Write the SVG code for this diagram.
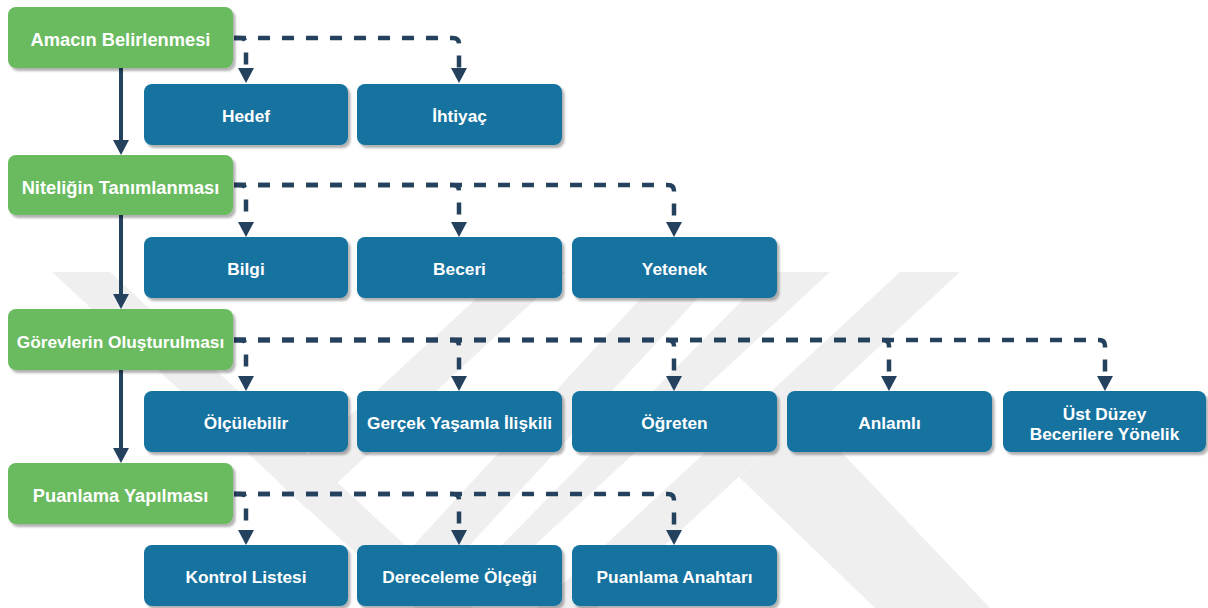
<svg xmlns="http://www.w3.org/2000/svg" width="1208" height="608" viewBox="0 0 1208 608">
<defs>
<style>
.g{fill:#6aba5e}
.b{fill:#13729f}
.t{font-family:"Liberation Sans",Arial,sans-serif;font-weight:bold;fill:#ffffff;text-anchor:middle}
.tg{font-size:18.3px}
.tb{font-size:17.3px}
.sl{fill:none;stroke:#24425e;stroke-width:4}
.dl{fill:none;stroke:#24425e;stroke-width:4.5;stroke-dasharray:12 12}
.wm{fill:#efefef}
</style>
<filter id="sh" x="-5%" y="-10%" width="115%" height="130%">
<feDropShadow dx="2.5" dy="3" stdDeviation="1.3" flood-color="#000" flood-opacity="0.3"/>
</filter>
<marker id="ah" viewBox="0 0 15 16" markerWidth="15" markerHeight="16" refX="0" refY="8" orient="auto" markerUnits="userSpaceOnUse">
<path d="M0,0 L15,8 L0,16 z" fill="#24425e"/>
</marker>
</defs>
<rect width="1208" height="608" fill="#ffffff"/>
<g id="watermark">
<polygon class="wm" points="52,272 110,272 473,608 415,608"/>
<polygon class="wm" points="505,272 565,272 308,510 278,482"/>
<polygon class="wm" points="665,272 722,272 430,588 400,560"/>
<polygon class="wm" points="770,272 830,272 467,608 440,608"/>
<polygon class="wm" points="900,272 960,272 597,608 537,608"/>
<polygon class="wm" points="739,477 805,414 990,608 875,608"/>
</g>
<g id="connectors">
<path class="sl" d="M121,68 V140" marker-end="url(#ah)"/>
<path class="sl" d="M121,215 V294" marker-end="url(#ah)"/>
<path class="sl" d="M121,370 V448" marker-end="url(#ah)"/>
<path class="dl" d="M234,38 H240 Q246,38 246,44 V68" marker-end="url(#ah)"/>
<path class="dl" d="M234,38 H453 Q459,38 459,44 V68" marker-end="url(#ah)"/>
<path class="dl" d="M234,185 H240 Q246,185 246,191 V222" marker-end="url(#ah)"/>
<path class="dl" d="M234,185 H453 Q459,185 459,191 V222" marker-end="url(#ah)"/>
<path class="dl" d="M234,185 H668 Q674,185 674,191 V222" marker-end="url(#ah)"/>
<path class="dl" d="M234,340 H240 Q246,340 246,346 V376" marker-end="url(#ah)"/>
<path class="dl" d="M234,340 H453 Q459,340 459,346 V376" marker-end="url(#ah)"/>
<path class="dl" d="M234,340 H668 Q674,340 674,346 V376" marker-end="url(#ah)"/>
<path class="dl" d="M234,340 H883 Q889,340 889,346 V376" marker-end="url(#ah)"/>
<path class="dl" d="M234,340 H1099 Q1105,340 1105,346 V376" marker-end="url(#ah)"/>
<path class="dl" d="M234,494 H240 Q246,494 246,500 V530" marker-end="url(#ah)"/>
<path class="dl" d="M234,494 H453 Q459,494 459,500 V530" marker-end="url(#ah)"/>
<path class="dl" d="M234,494 H668 Q674,494 674,500 V530" marker-end="url(#ah)"/>
</g>
<g id="n-amacin"><rect class="g" x="8" y="7" width="225" height="61" rx="8" filter="url(#sh)"/><text class="t tg" x="120.5" y="46">Amacın Belirlenmesi</text></g>
<g id="n-hedef"><rect class="b" x="144" y="84" width="204" height="61" rx="8" filter="url(#sh)"/><text class="t tb" x="246" y="122">Hedef</text></g>
<g id="n-ihtiyac"><rect class="b" x="357" y="84" width="205" height="61" rx="8" filter="url(#sh)"/><text class="t tb" x="459.5" y="122">İhtiyaç</text></g>
<g id="n-nitelik"><rect class="g" x="8" y="155" width="225" height="60" rx="8" filter="url(#sh)"/><text class="t tg" x="120.5" y="193.5">Niteliğin Tanımlanması</text></g>
<g id="n-bilgi"><rect class="b" x="144" y="237" width="204" height="61" rx="8" filter="url(#sh)"/><text class="t tb" x="246" y="275">Bilgi</text></g>
<g id="n-beceri"><rect class="b" x="357" y="237" width="205" height="61" rx="8" filter="url(#sh)"/><text class="t tb" x="459.5" y="275">Beceri</text></g>
<g id="n-yetenek"><rect class="b" x="572" y="237" width="205" height="61" rx="8" filter="url(#sh)"/><text class="t tb" x="674.5" y="275">Yetenek</text></g>
<g id="n-gorev"><rect class="g" x="8" y="309" width="225" height="61" rx="8" filter="url(#sh)"/><text class="t tb" x="120.5" y="347.5">Görevlerin Oluşturulması</text></g>
<g id="n-olcul"><rect class="b" x="144" y="391" width="204" height="61" rx="8" filter="url(#sh)"/><text class="t tb" x="246" y="429">Ölçülebilir</text></g>
<g id="n-gercek"><rect class="b" x="357" y="391" width="205" height="61" rx="8" filter="url(#sh)"/><text class="t tb" x="459.5" y="429">Gerçek Yaşamla İlişkili</text></g>
<g id="n-ogreten"><rect class="b" x="572" y="391" width="205" height="61" rx="8" filter="url(#sh)"/><text class="t tb" x="674.5" y="429">Öğreten</text></g>
<g id="n-anlamli"><rect class="b" x="787" y="391" width="205" height="61" rx="8" filter="url(#sh)"/><text class="t tb" x="889.5" y="429">Anlamlı</text></g>
<g id="n-ust"><rect class="b" x="1003" y="391" width="203" height="61" rx="8" filter="url(#sh)"/><text class="t tb" x="1104.5" y="420">Üst Düzey</text><text class="t tb" x="1104.5" y="439.5">Becerilere Yönelik</text></g>
<g id="n-puan"><rect class="g" x="8" y="463" width="225" height="61" rx="8" filter="url(#sh)"/><text class="t tg" x="120.5" y="501.5">Puanlama Yapılması</text></g>
<g id="n-kontrol"><rect class="b" x="144" y="545" width="204" height="61" rx="8" filter="url(#sh)"/><text class="t tb" x="246" y="583">Kontrol Listesi</text></g>
<g id="n-derece"><rect class="b" x="357" y="545" width="205" height="61" rx="8" filter="url(#sh)"/><text class="t tb" x="459.5" y="583">Dereceleme Ölçeği</text></g>
<g id="n-anahtar"><rect class="b" x="572" y="545" width="205" height="61" rx="8" filter="url(#sh)"/><text class="t tb" x="674.5" y="583">Puanlama Anahtarı</text></g>
</svg>
